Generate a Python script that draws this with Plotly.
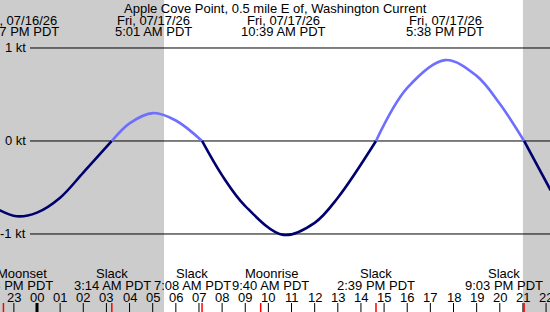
import plotly.graph_objects as go

# ---------------- data ----------------
title_text = "Apple Cove Point, 0.5 mile E of, Washington Current"

# current curve (hours relative to 00:00 Fri 07/17/26, knots)
curve_hours = [-1.65, -0.88, 0.0, 1.0, 2.0, 3.233, 4.0, 5.017, 6.0, 7.133, 8.0, 9.0, 10.65, 12.0, 13.0, 14.65, 16.0, 17.633, 19.0, 20.0, 21.05, 22.2]
curve_kt = [-0.74, -0.81, -0.77, -0.61, -0.34, 0.0, 0.19, 0.30, 0.22, 0.0, -0.37, -0.70, -1.01, -0.88, -0.61, 0.0, 0.57, 0.87, 0.70, 0.40, 0.0, -0.53]

# max/min events (top labels)
top_hours = [-0.883, 5.017, 10.65, 17.633, 23.77]
top_dates = ["Thu, 07/16/26", "Fri, 07/17/26", "Fri, 07/17/26", "Fri, 07/17/26", "Fri, 07/17/26"]
top_times = ["11:07 PM PDT", "5:01 AM PDT", "10:39 AM PDT", "5:38 PM PDT", "11:46 PM PDT"]

# bottom events
bot_hours = [-1.45, 3.233, 7.133, 9.667, 14.65, 21.05]
bot_names = ["Moonset", "Slack", "Slack", "Moonrise", "Slack", "Slack"]
bot_times = ["10:33 PM PDT", "3:14 AM PDT", "7:08 AM PDT", "9:40 AM PDT", "2:39 PM PDT", "9:03 PM PDT"]

# hour ticks
tick_hours = list(range(-1, 23))

# daylight
sunrise_h = 5.49
sunset_h = 21.0

kt_levels = [1, 0, -1]
kt_labels = ["1 kt", "0 kt", "-1 kt"]

# ---------------- layout constants ----------------
W, H = 550, 312
X_RANGE = [-1.599, 22.17]
Y_RANGE = [-1.839, 1.516]
FONT = "Liberation Sans, Arial, sans-serif"
FLOOD = "#6e6eff"
EBB = "#00006e"
GRAY = "#cccccc"


def py(px):
    return 1 - px / H


fig = go.Figure()

# split curve into flood/ebb segments at slack points
segs = []
cur_x, cur_y = [], []
for h, v in zip(curve_hours, curve_kt):
    cur_x.append(h)
    cur_y.append(v)
    if v == 0 and len(cur_x) > 1:
        segs.append((cur_x, cur_y))
        cur_x, cur_y = [h], [v]
if len(cur_x) > 1:
    segs.append((cur_x, cur_y))

for sx, sy in segs:
    sign = sum(sy)
    fig.add_trace(go.Scatter(
        x=sx, y=sy, mode="lines",
        line=dict(color=FLOOD if sign > 0 else EBB, width=2.6, shape="spline", smoothing=1.0),
        hoverinfo="skip", showlegend=False,
    ))

shapes = []
# night shading
shapes.append(dict(type="rect", xref="x", yref="paper", x0=X_RANGE[0] - 1, x1=sunrise_h, y0=0, y1=1,
                   fillcolor=GRAY, line=dict(width=0), layer="below"))
shapes.append(dict(type="rect", xref="x", yref="paper", x0=sunset_h, x1=X_RANGE[1] + 1, y0=0, y1=1,
                   fillcolor=GRAY, line=dict(width=0), layer="below"))
# kt lines
for lv in kt_levels:
    shapes.append(dict(type="line", xref="paper", yref="y", x0=30 / W, x1=1, y0=lv, y1=lv,
                       line=dict(color="black", width=1), layer="below"))
# hour ticks
for h in tick_hours:
    shapes.append(dict(type="line", xref="x", yref="paper", x0=h, x1=h, y0=py(303), y1=0,
                       line=dict(color="black", width=3 if h % 24 == 0 else 1)))
# event ticks
for h in bot_hours:
    shapes.append(dict(type="line", xref="x", yref="paper", x0=h, x1=h, y0=py(303), y1=0,
                       line=dict(color="red", width=1.5)))

ann = []
fnt = dict(family=FONT, size=13, color="black")
ann.append(dict(text=title_text, xref="paper", yref="paper", x=0.5, y=py(8), xanchor="center",
                yanchor="middle", showarrow=False, font=fnt))
for h, d, t in zip(top_hours, top_dates, top_times):
    ann.append(dict(text=d, xref="x", yref="paper", x=h, y=py(20), xanchor="center", yanchor="middle",
                    showarrow=False, font=fnt))
    ann.append(dict(text=t, xref="x", yref="paper", x=h, y=py(32), xanchor="center", yanchor="middle",
                    showarrow=False, font=fnt))

shift1 = [19, 0, -10, 11, 0, -20]
shift2 = [7, 1, -10, 10, 0, -20]
for h, n, t, s1, s2 in zip(bot_hours, bot_names, bot_times, shift1, shift2):
    ann.append(dict(text=n, xref="x", yref="paper", x=h, xshift=s1, y=py(273), xanchor="center",
                    yanchor="middle", showarrow=False, font=fnt))
    ann.append(dict(text=t, xref="x", yref="paper", x=h, xshift=s2, y=py(285), xanchor="center",
                    yanchor="middle", showarrow=False, font=fnt))

for h in tick_hours:
    ann.append(dict(text=f"{h % 24:02d}", xref="x", yref="paper", x=h, y=py(297), xanchor="center",
                    yanchor="middle", showarrow=False, font=fnt))

for lv, lb in zip(kt_levels, kt_labels):
    ann.append(dict(text=lb, xref="paper", yref="y", x=28 / W, y=lv, xanchor="right", yanchor="middle",
                    showarrow=False, font=fnt))

fig.update_layout(
    width=W, height=H,
    margin=dict(l=0, r=0, t=0, b=0, pad=0),
    paper_bgcolor="white", plot_bgcolor="white",
    xaxis=dict(range=X_RANGE, visible=False, fixedrange=True),
    yaxis=dict(range=Y_RANGE, visible=False, fixedrange=True),
    shapes=shapes, annotations=ann, showlegend=False,
)

fig.write_html("out.html", config={"displayModeBar": False})
